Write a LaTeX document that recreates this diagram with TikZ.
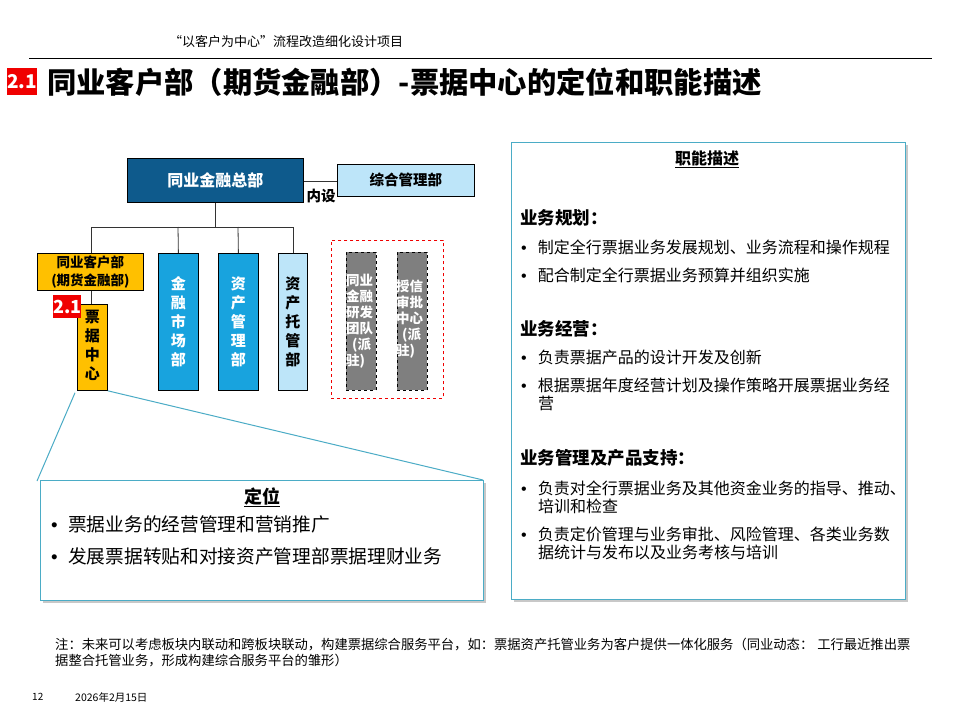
\documentclass[tikz,border=0pt]{standalone}
\usepackage{fontspec}
\setmainfont{Noto Sans CJK SC}
\newfontfamily\bulletfont{Liberation Sans}
\usetikzlibrary{calc}
\definecolor{darkblue}{RGB}{14,90,140}
\definecolor{midblue}{RGB}{24,163,222}
\definecolor{lightblue}{RGB}{189,229,249}
\definecolor{orgyellow}{RGB}{255,192,0}
\definecolor{boxgray}{RGB}{127,127,127}
\definecolor{calloutcyan}{RGB}{75,172,198}
\definecolor{shadowgray}{RGB}{200,200,200}
\definecolor{redmark}{RGB}{240,0,0}
\newcommand{\blt}[1]{{\bulletfont •}\hspace{#1}}
\tikzset{
  orgbox/.style={draw=black, line width=0.8pt, inner sep=0pt, anchor=north west},
  conn/.style={draw=black!80, line width=0.8pt},
  vtext/.style={align=center, font=\bfseries\fontsize{15}{19}\selectfont},
  graytext/.style={align=left, text=white, font=\bfseries\fontsize{13.5}{16}\selectfont, inner sep=0pt},
  redtag/.style={fill=redmark, text=white, font=\bfseries\fontsize{19}{19}\selectfont, inner sep=0pt, anchor=north west},
  infobox/.style={draw=calloutcyan, line width=1pt, fill=white, anchor=north west, inner sep=0pt},
  bullettext/.style={anchor=west, inner sep=0pt, align=left},
}
\begin{document}
\begin{tikzpicture}[x=1pt,y=-1pt]
\useasboundingbox (0,0) rectangle (960,720);
\fill[white] (0,0) rectangle (960,720);

% header
\node[inner sep=0pt, font=\fontsize{13}{13}\selectfont] (hdr) at (286,42) {“以客户为中心”流程改造细化设计项目};
\coordinate (hl) at (29,58);
\coordinate (hr) at (932,58);
\draw[line width=1pt] (hl) -- (hr);

% title
\node[redtag, minimum width=30pt, minimum height=27pt] (tag) at (7,68) {2.1};
\node[anchor=west, inner sep=0pt, font=\bfseries\fontsize{29.3}{29.3}\selectfont] (title) at (47,82) {同业客户部（期货金融部）-票据中心的定位和职能描述};

% org chart top
\node[orgbox, fill=darkblue, minimum width=176pt, minimum height=44pt] (hq) at (127,158) {};
\node[text=white, font=\bfseries\fontsize{16}{16}\selectfont] at (hq.center) {同业金融总部};
\node[orgbox, fill=lightblue, minimum width=137pt, minimum height=32pt] (zh) at (337,164) {};
\node[font=\bfseries\fontsize{14.5}{14.5}\selectfont] at (zh.center) {综合管理部};
\draw[conn] (hq.east |- 0,181) -- (zh.west |- 0,181);
\node[anchor=north, inner sep=0pt, font=\bfseries\fontsize{14.5}{14.5}\selectfont] (nei) at (321,189) {内设};

% second level boxes
\node[orgbox, fill=orgyellow, minimum width=106pt, minimum height=37pt] (khb) at (37,253) {};
\node[align=center, font=\bfseries\fontsize{13.5}{18}\selectfont] at (khb.center) {同业客户部\\(期货金融部)};
\node[orgbox, fill=midblue, minimum width=40pt, minimum height=137pt] (jr) at (158,253) {};
\node[vtext, text=white] at (jr.center) {金\\融\\市\\场\\部};
\node[orgbox, fill=midblue, minimum width=40pt, minimum height=137pt] (zc) at (218,253) {};
\node[vtext, text=white] at (zc.center) {资\\产\\管\\理\\部};
\node[orgbox, fill=lightblue, minimum width=29pt, minimum height=137pt] (tg) at (278,253) {};
\node[vtext, text=black] at (tg.center) {资\\产\\托\\管\\部};

% connectors
\coordinate (hqdrop) at (215,227);
\draw[conn] (hq.south -| hqdrop) -- (hqdrop);
\draw[conn] (91,227) -- (293,227);
\draw[conn] (91,227) -- (khb.north -| 91,0);
\draw[conn] (178,227) -- (jr.north);
\draw[conn] (238,227) -- (zc.north);
\draw[conn] (293,227) -- (tg.north -| 293,0);

% ticket center
\node[orgbox, fill=orgyellow, minimum width=30pt, minimum height=86pt] (pj) at (77,304) {};
\node[vtext, text=black] at ($(pj.center)+(0,-2)$) {票\\据\\中\\心};
\draw[conn] (khb.south -| 91,0) -- (pj.north -| 91,0);
\node[redtag, minimum width=28pt, minimum height=23pt, font=\bfseries\fontsize{18}{18}\selectfont] (tag2) at (53,295) {2.1};

% dashed group
\node[draw=redmark, dashed, line width=0.8pt, minimum width=112pt, minimum height=158pt, inner sep=0pt, anchor=north west] (grp) at (331,240) {};
\node[orgbox, fill=boxgray, dashed, minimum width=30pt, minimum height=138pt] (yf) at (346,252) {};
\node[graytext, anchor=north west] at (346,274) {同业\\金融\\研发\\团队\\\hspace{6pt}(派\\驻)};
\node[orgbox, fill=boxgray, dashed, minimum width=30pt, minimum height=138pt] (sx) at (397,252) {};
\node[graytext, anchor=north west] at (396,280) {授信\\审批\\中心\\\hspace{6pt}(派\\驻)};

% positioning box with shadow
\fill[shadowgray] (43,483) rectangle (486,603);
\node[infobox, minimum width=443pt, minimum height=120pt] (dw) at (40,480) {};
\node[font=\bfseries\fontsize{18}{18}\selectfont, inner sep=0pt] (dwt) at (262,497) {\underline{定位}};
\node[bullettext, font=\fontsize{18.7}{18.7}\selectfont] (dw1) at (51,524) {\blt{10.5pt}票据业务的经营管理和营销推广};
\node[bullettext, font=\fontsize{18.7}{18.7}\selectfont] (dw2) at (51,556) {\blt{10.5pt}发展票据转贴和对接资产管理部票据理财业务};

% callout lines
\coordinate (cl) at (37,481);
\coordinate (cr) at (483,480);
\draw[calloutcyan, line width=1pt] ($(pj.south west)+(-2,2)$) -- (cl);
\draw[calloutcyan, line width=1pt] (pj.south east) -- (cr);

% function box with shadow
\fill[shadowgray] (514,145) rectangle (908,602);
\node[infobox, minimum width=394pt, minimum height=457pt] (zn) at (511,142) {};
\node[font=\bfseries\fontsize{16}{16}\selectfont, inner sep=0pt] (znt) at (707,159) {\underline{职能描述}};

\node[bullettext, font=\bfseries\fontsize{17.5}{17.5}\selectfont] (h1) at (520,218) {业务规划：};
\node[bullettext, font=\fontsize{16}{16}\selectfont] (b11) at (521,247) {\blt{11pt}制定全行票据业务发展规划、业务流程和操作规程};
\node[bullettext, font=\fontsize{16}{16}\selectfont] (b12) at (521,275) {\blt{11pt}配合制定全行票据业务预算并组织实施};

\node[bullettext, font=\bfseries\fontsize{17.5}{17.5}\selectfont] (h2) at (520,329) {业务经营：};
\node[bullettext, font=\fontsize{16}{16}\selectfont] (b21) at (521,357) {\blt{11pt}负责票据产品的设计开发及创新};
\node[bullettext, font=\fontsize{16}{16}\selectfont] (b22) at (521,385) {\blt{11pt}根据票据年度经营计划及操作策略开展票据业务经};
\node[bullettext, font=\fontsize{16}{16}\selectfont] (b22b) at (538,403) {营};

\node[bullettext, font=\bfseries\fontsize{17.5}{17.5}\selectfont] (h3) at (520,458) {业务管理及产品支持：};
\node[bullettext, font=\fontsize{16}{16}\selectfont] (b31) at (521,488) {\blt{11pt}负责对全行票据业务及其他资金业务的指导、推动、};
\node[bullettext, font=\fontsize{16}{16}\selectfont] (b31b) at (538,506) {培训和检查};
\node[bullettext, font=\fontsize{16}{16}\selectfont] (b32) at (521,534) {\blt{11pt}负责定价管理与业务审批、风险管理、各类业务数};
\node[bullettext, font=\fontsize{16}{16}\selectfont] (b32b) at (538,552) {据统计与发布以及业务考核与培训};

% footnote
\node[bullettext, font=\fontsize{13.3}{16}\selectfont] (note) at (55,653) {注：未来可以考虑板块内联动和跨板块联动，构建票据综合服务平台，如：票据资产托管业务为客户提供一体化服务（同业动态：\hspace{4pt}工行最近推出票\\据整合托管业务，形成构建综合服务平台的雏形）};
\node[anchor=west, inner sep=0pt, font=\fontsize{10}{10}\selectfont] (pg) at (32,697) {12};
\node[anchor=west, inner sep=0pt, font=\fontsize{10.5}{10.5}\selectfont] (dt) at (75,697) {2026年2月15日};
\end{tikzpicture}
\end{document}
